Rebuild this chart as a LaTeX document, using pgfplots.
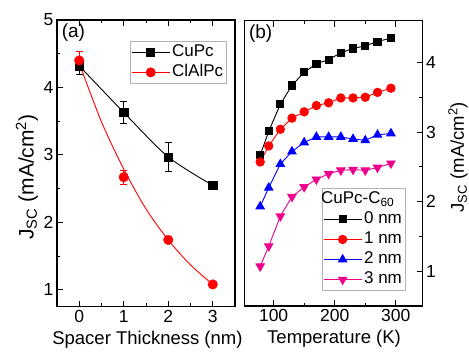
\documentclass[border=0pt]{standalone}
\usepackage{pgfplots}
\pgfplotsset{compat=1.18}
\usepackage{fontspec}
\setmainfont{Liberation Sans}
\begin{document}
\begin{tikzpicture}
\path[use as bounding box] (0pt,0pt) rectangle (469pt,-353pt);
\pgfplotsset{
  every axis/.append style={
    scale only axis,
    font=\fontsize{17.5}{20}\selectfont,
    tick align=inside,
    major tick length=6pt,
    minor tick length=3.5pt,
    /pgf/number format/assume math mode=true,
    axis line style={line width=1.1pt},
    every tick/.style={black, line width=0.9pt},
    minor x tick num=1,
    minor y tick num=1,
    xlabel style={font=\fontsize{18.5}{22}\selectfont},
    legend style={draw=gray!60, line width=0.6pt, font=\fontsize{17}{18}\selectfont, inner xsep=1pt, inner ysep=1pt, row sep=0pt, cells={anchor=west}, nodes={inner xsep=2pt, inner ysep=0.8pt, text height=13.5pt, text depth=5pt}},
    legend image code/.code={\draw[mark repeat=2,mark phase=2] plot coordinates {(0pt,0pt)(19pt,0pt)(38pt,0pt)};},
  }
}
% ---------- panel (a)
\begin{axis}[
  at={(57pt,-306.7pt)}, anchor=south west,
  width=178pt, height=286.7pt,
  xmin=-0.5, xmax=3.5, ymin=0.75, ymax=5,
  xtick={0,1,2,3}, ytick={1,2,3,4,5},
  xtick pos=both, ytick pos=left,
  xlabel={Spacer Thickness (nm)},
  xlabel style={at={(axis description cs:0.508,-0.116)}, anchor=center},
  ylabel={J\textsubscript{SC} (mA/cm\textsuperscript{2})},
  ylabel style={at={(axis description cs:-0.169,0.452)}, anchor=center, font=\fontsize{21}{24}\selectfont},
  legend style={at={(0.41,0.927)}, anchor=north west},
]
\addlegendimage{black, line width=0.9pt, mark=square*, mark size=4pt}
\addlegendentry{CuPc}
\addlegendimage{red, line width=0.9pt, mark=*, mark size=4.5pt}
\addlegendentry{ClAlPc}
% fitted curves
\addplot[black, line width=0.9pt, smooth, forget plot] coordinates {(0,4.32) (1,3.63) (2,2.97) (3,2.55)};
\addplot[red, line width=0.9pt, smooth, forget plot] coordinates {(0,4.36) (0.5,3.49) (1,2.79) (1.5,2.20) (2,1.74) (2.5,1.37) (3,1.08)};
% data with error bars
\addplot[black, only marks, mark=square*, mark size=4.2pt, forget plot,
  error bars/.cd, y dir=both, y explicit, error bar style={line width=0.8pt, black}, error mark options={rotate=90, mark size=3.5pt, line width=0.8pt, black}]
  coordinates {(0,4.32) +- (0,0.12) (1,3.63) +- (0,0.17) (2,2.97) +- (0,0.22) (3,2.55) +- (0,0.05)};
\addplot[red, only marks, mark=*, mark size=4.8pt, forget plot,
  error bars/.cd, y dir=both, y explicit, error bar style={line width=0.8pt, red}, error mark options={rotate=90, mark size=3.5pt, line width=0.8pt, red}]
  coordinates {(0,4.40) +- (0,0.14) (1,2.67) +- (0,0.10) (2,1.74) +- (0,0.03) (3,1.08) +- (0,0.02)};
\node[anchor=north west, inner sep=1pt, font=\fontsize{19}{21}\selectfont] at (rel axis cs:0.02,0.99) {(a)};
\end{axis}
% ---------- panel (b)
\begin{axis}[
  at={(244.3pt,-306pt)}, anchor=south west,
  width=178.4pt, height=285.3pt,
  xmin=52, xmax=344, ymin=0.5, ymax=4.6,
  xtick={100,200,300}, ytick={1,2,3,4},
  xtick pos=both, ytick pos=right, yticklabel pos=right,
  xlabel={Temperature (K)},
  xlabel style={at={(axis description cs:0.503,-0.116)}, anchor=center},
  ylabel={J\textsubscript{SC} (mA/cm\textsuperscript{2})},
  ylabel style={at={(axis description cs:1.198,0.522)}, anchor=center, font=\fontsize{18.5}{22}\selectfont},
  legend style={at={(0.435,0.414)}, anchor=north west},
]
\addlegendimage{empty legend}
\addlegendentry{\hspace{-43pt}CuPc-C\textsubscript{60}}
\addplot[black, line width=0.9pt, mark=square*, mark size=3.6pt] coordinates {
(78,2.67) (92,3.01) (111,3.40) (130,3.67) (150,3.86) (170,3.98) (190,4.04) (210,4.14) (230,4.20) (250,4.24) (270,4.30) (292,4.35)};
\addlegendentry{0 nm}
\addplot[red, line width=0.9pt, mark=*, mark size=4.2pt] coordinates {
(78,2.57) (92,2.80) (111,3.04) (130,3.20) (150,3.29) (170,3.38) (190,3.42) (210,3.49) (230,3.49) (250,3.50) (270,3.57) (292,3.63)};
\addlegendentry{1 nm}
\addplot[blue, line width=0.9pt, mark=triangle*, mark size=4.8pt] coordinates {
(78,1.93) (92,2.20) (111,2.54) (130,2.72) (150,2.85) (170,2.93) (190,2.93) (210,2.93) (230,2.90) (250,2.88) (270,2.96) (292,2.98)};
\addlegendentry{2 nm}
\addplot[magenta, line width=0.9pt, mark=triangle*, mark size=4.8pt, mark options={rotate=180}] coordinates {
(78,1.07) (92,1.36) (111,1.79) (130,2.07) (150,2.21) (170,2.32) (190,2.40) (210,2.45) (230,2.46) (250,2.45) (270,2.49) (292,2.55)};
\addlegendentry{3 nm}
\node[anchor=north west, inner sep=1pt, font=\fontsize{19}{21}\selectfont] at (rel axis cs:0.02,0.99) {(b)};
\end{axis}
\end{tikzpicture}
\end{document}
